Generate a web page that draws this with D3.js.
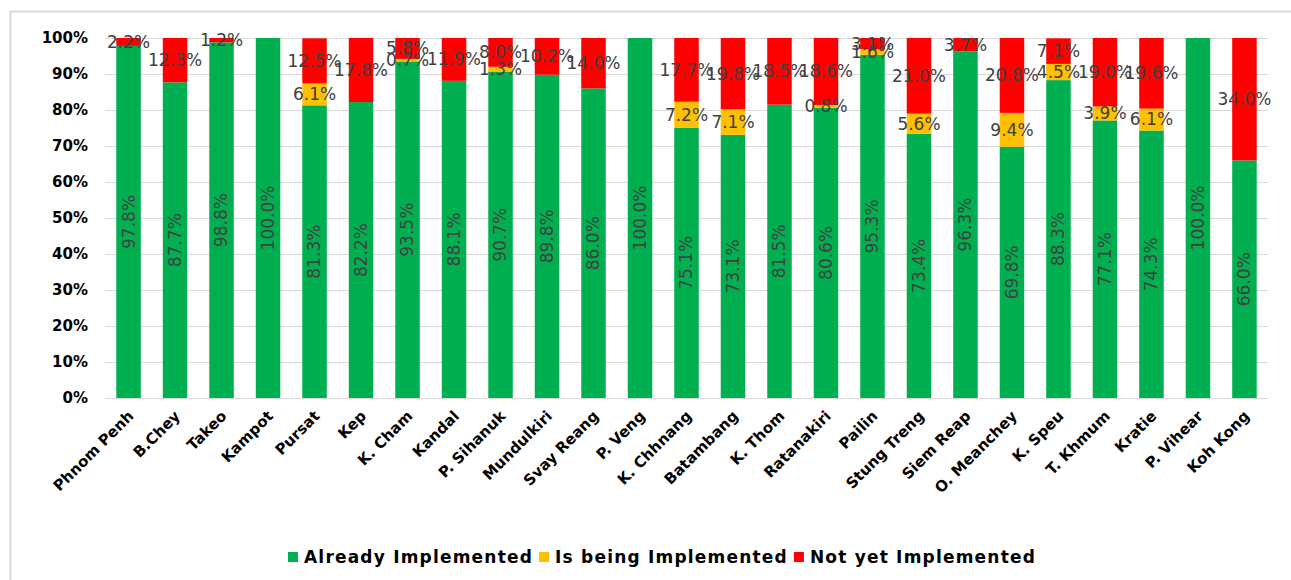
<!DOCTYPE html>
<html>
<head>
<meta charset="utf-8">
<script src="https://cdn.jsdelivr.net/npm/d3@7"></script>
<style>
  body { margin: 0; background: #fff; }
  text { font-family: "DejaVu Sans", sans-serif; }
</style>
</head>
<body>
<div id="chart"></div>
<script>
var provinces = ["Phnom Penh", "B.Chey", "Takeo", "Kampot", "Pursat", "Kep", "K. Cham", "Kandal",
  "P. Sihanuk", "Mundulkiri", "Svay Reang", "P. Veng", "K. Chhnang", "Batambang", "K. Thom",
  "Ratanakiri", "Pailin", "Stung Treng", "Siem Reap", "O. Meanchey", "K. Speu", "T. Khmum",
  "Kratie", "P. Vihear", "Koh Kong"];

// percentages, 0 = no segment
var already = [97.8, 87.7, 98.8, 100.0, 81.3, 82.2, 93.5, 88.1, 90.7, 89.8, 86.0, 100.0, 75.1,
  73.1, 81.5, 80.6, 95.3, 73.4, 96.3, 69.8, 88.3, 77.1, 74.3, 100.0, 66.0];
var being = [0, 0, 0, 0, 6.1, 0, 0.7, 0, 1.3, 0, 0, 0, 7.2,
  7.1, 0, 0.8, 1.6, 5.6, 0, 9.4, 4.5, 3.9, 6.1, 0, 0];
var notYet = [2.2, 12.3, 1.2, 0, 12.5, 17.8, 5.8, 11.9, 8.0, 10.2, 14.0, 0, 17.7,
  19.8, 18.5, 18.6, 3.1, 21.0, 3.7, 20.8, 7.1, 19.0, 19.6, 0, 34.0];

var seriesNames = ["Already Implemented", "Is being Implemented", "Not yet Implemented"];
var seriesColors = ["#00b050", "#ffc000", "#ff0000"];
var yTicks = [0, 0.1, 0.2, 0.3, 0.4, 0.5, 0.6, 0.7, 0.8, 0.9, 1];

var W = 1291, H = 580;
var svg = d3.select("#chart").append("svg")
    .attr("width", W)
    .attr("height", H);

// outer frame (cut off right / bottom like the screenshot)
svg.append("rect")
    .attr("x", 10.5).attr("y", 11.5)
    .attr("width", 1300).attr("height", 600)
    .attr("fill", "none")
    .attr("stroke", "#d9d9d9")
    .attr("stroke-width", 2);

var x = d3.scaleBand()
    .domain(provinces)
    .range([105, 1268])
    .paddingInner(0.473)
    .paddingOuter(0.243);

var y = d3.scaleLinear().domain([0, 1]).range([398, 38]);

// gridlines
svg.append("g").selectAll("line")
    .data(yTicks)
    .enter().append("line")
    .attr("x1", 105).attr("x2", 1268)
    .attr("y1", function(d) { return Math.round(y(d)) + 0.5; })
    .attr("y2", function(d) { return Math.round(y(d)) + 0.5; })
    .attr("stroke", "#d9d9d9")
    .attr("stroke-width", 1);

// y axis labels
var yAxis = d3.axisLeft(y).tickValues(yTicks).tickFormat(d3.format(".0%")).tickSize(0).tickPadding(17);
var yg = svg.append("g").attr("transform", "translate(105,0)").call(yAxis);
yg.select(".domain").remove();
yg.selectAll("text")
    .style("font-family", "DejaVu Sans")
    .style("font-size", "15px")
    .style("font-weight", "bold")
    .attr("fill", "#000");

// stacked data
var rows = provinces.map(function(p, i) {
  return { name: p, a: already[i] / 100, b: being[i] / 100, c: notYet[i] / 100 };
});
var stack = d3.stack().keys(["a", "b", "c"]);
var layers = stack(rows);

var lg = svg.append("g").selectAll("g")
    .data(layers)
    .enter().append("g")
    .attr("fill", function(d, i) { return seriesColors[i]; });

lg.selectAll("rect")
    .data(function(d) { return d; })
    .enter().append("rect")
    .attr("x", function(d) { return x(d.data.name); })
    .attr("width", x.bandwidth())
    .attr("y", function(d) { return y(Math.min(d[1], 1)); })
    .attr("height", function(d) { return Math.max(0, y(d[0]) - y(Math.min(d[1], 1))); });

// data labels
var fmt = function(v) { return (v * 100).toFixed(1) + "%"; };
layers.forEach(function(layer, li) {
  layer.forEach(function(d) {
    var v = d[1] - d[0];
    if (v <= 0) return;
    var cx = x(d.data.name) + x.bandwidth() / 2;
    var cy = (y(d[0]) + y(Math.min(d[1], 1))) / 2;
    var t = svg.append("text")
        .attr("fill", "#404040")
        .style("font-size", "17px")
        .attr("text-anchor", "middle")
        .attr("dy", "0.35em")
        .text(fmt(v));
    if (li === 0) {
      t.attr("transform", "translate(" + cx + "," + cy + ") rotate(-90)");
    } else {
      t.attr("x", cx).attr("y", cy);
    }
  });
});

// category labels
svg.append("g").selectAll("text")
    .data(provinces)
    .enter().append("text")
    .attr("transform", function(d) {
      return "translate(" + (x(d) + x.bandwidth() / 2 + 6) + ",417) rotate(-45)";
    })
    .attr("text-anchor", "end")
    .style("font-size", "15px")
    .style("font-weight", "bold")
    .attr("fill", "#000")
    .text(function(d) { return d; });

// legend
var legend = svg.append("g").attr("transform", "translate(0,557)");
var lx = 288;
seriesNames.forEach(function(name, i) {
  legend.append("rect")
      .attr("x", lx).attr("y", -5)
      .attr("width", 10).attr("height", 10)
      .attr("fill", seriesColors[i]);
  var t = legend.append("text")
      .attr("x", lx + 16).attr("y", 0)
      .attr("dy", "0.36em")
      .style("font-size", "17px")
      .style("font-weight", "bold")
      .style("letter-spacing", "1.2px")
      .attr("fill", "#000")
      .text(name);
  lx += 16 + t.node().getComputedTextLength() + 6;
});
</script>
</body>
</html>
